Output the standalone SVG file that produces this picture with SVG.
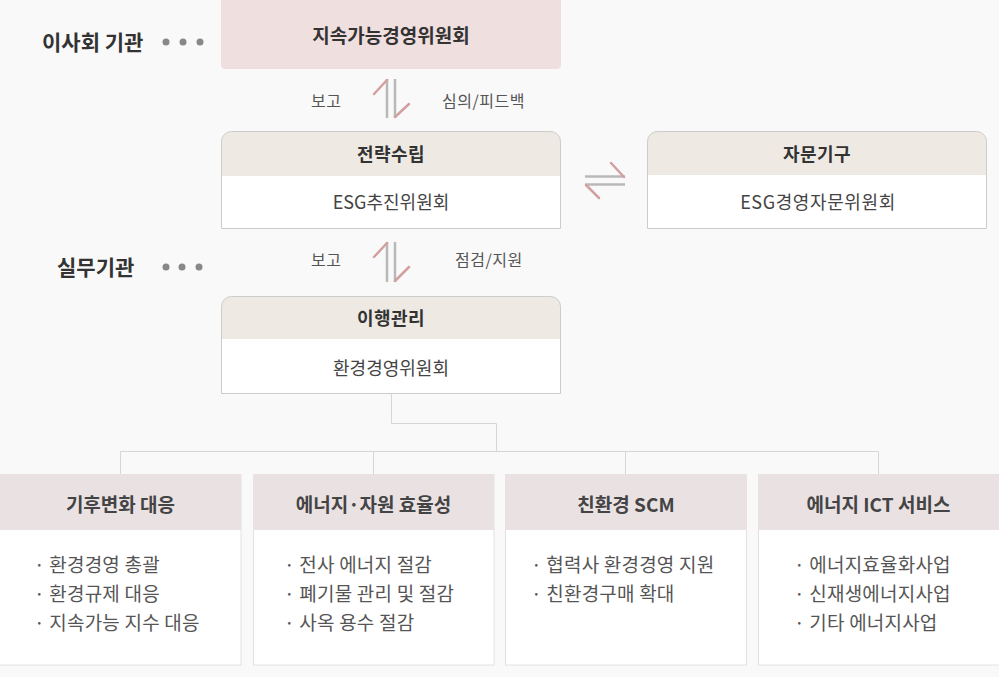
<svg xmlns="http://www.w3.org/2000/svg" width="999" height="677" viewBox="0 0 999 677">
<style>
text{font-family:"Noto Sans CJK KR","Noto Sans",sans-serif;dominant-baseline:central}
.side{font-size:21px;font-weight:bold;fill:#333}
.title{font-size:19px;font-weight:bold;fill:#333;text-anchor:middle}
.head{font-size:18px;font-weight:bold;fill:#333;text-anchor:middle;letter-spacing:0.5px}
.bhead{font-size:19px;font-weight:bold;fill:#444;text-anchor:middle}
.body{font-size:18px;fill:#444;text-anchor:middle}
.lbl{font-size:16px;fill:#555;letter-spacing:0.5px}
.item{font-size:19px;fill:#555;letter-spacing:0.2px}
.hdr{fill:#eeeae3}
.out{fill:none;stroke:#cccccc;stroke-width:1}
.bhdr{fill:#e9e1e2}
.bbox{fill:#ffffff;stroke:#e2e2e2;stroke-width:1}
.gray{stroke:#b8b8b8;stroke-width:2.5;fill:none}
.pink{stroke:#d3a0a0;stroke-width:2.5;fill:none;stroke-linecap:round}
.dot{fill:#888}
.conn{stroke:#d6d6d6;stroke-width:1;fill:none}
</style>
<rect x="0" y="0" width="999" height="677" fill="#f9f9f9"/>

<g id="label-board">
<text class="side" x="42" y="41">이사회 기관</text>
<circle class="dot" cx="166" cy="42" r="3.5"/>
<circle class="dot" cx="183" cy="42" r="3.5"/>
<circle class="dot" cx="200" cy="42" r="3.5"/>
</g>
<g id="label-work">
<text class="side" x="57" y="266">실무기관</text>
<circle class="dot" cx="166" cy="267" r="3.5"/>
<circle class="dot" cx="182" cy="267" r="3.5"/>
<circle class="dot" cx="199" cy="267" r="3.5"/>
</g>

<g id="node-committee">
<path d="M221,0 H561 V65 A4,4 0 0 1 557,69 H225 A4,4 0 0 1 221,65 Z" fill="#f0dfdf"/>
<text class="title" x="391" y="34">지속가능경영위원회</text>
</g>

<g id="node-strategy">
<rect x="221.5" y="176" width="339" height="52.5" fill="#ffffff"/>
<path class="hdr" d="M221.5,176 V141.5 A10,10 0 0 1 231.5,131.5 H550.5 A10,10 0 0 1 560.5,141.5 V176 Z"/>
<path class="out" d="M221.5,228.5 V141.5 A10,10 0 0 1 231.5,131.5 H550.5 A10,10 0 0 1 560.5,141.5 V228.5 Z"/>
<text class="head" x="391" y="153">전략수립</text>
<text class="body" x="391" y="201">ESG추진위원회</text>
</g>

<g id="node-advisory">
<rect x="647.5" y="175" width="339" height="53.5" fill="#ffffff"/>
<path class="hdr" d="M647.5,175 V141.5 A10,10 0 0 1 657.5,131.5 H976.5 A10,10 0 0 1 986.5,141.5 V175 Z"/>
<path class="out" d="M647.5,228.5 V141.5 A10,10 0 0 1 657.5,131.5 H976.5 A10,10 0 0 1 986.5,141.5 V228.5 Z"/>
<text class="head" x="817" y="153">자문기구</text>
<text class="body" x="818" y="201" style="letter-spacing:0.6px">ESG경영자문위원회</text>
</g>

<g id="node-execution">
<rect x="221.5" y="339" width="339" height="54.5" fill="#ffffff"/>
<path class="hdr" d="M221.5,339 V306.5 A10,10 0 0 1 231.5,296.5 H550.5 A10,10 0 0 1 560.5,306.5 V339 Z"/>
<path class="out" d="M221.5,393.5 V306.5 A10,10 0 0 1 231.5,296.5 H550.5 A10,10 0 0 1 560.5,306.5 V393.5 Z"/>
<text class="head" x="391" y="317">이행관리</text>
<text class="body" x="391" y="367">환경경영위원회</text>
</g>

<g id="connectors">
<g id="arrow-1">
<line class="gray" x1="387" y1="79" x2="387" y2="118"/>
<line class="gray" x1="395" y1="79" x2="395" y2="118"/>
<line class="pink" x1="387" y1="80" x2="374" y2="94"/>
<line class="pink" x1="395" y1="117" x2="409" y2="104"/>
<text class="lbl" x="311" y="100">보고</text>
<text class="lbl" x="442" y="100">심의/피드백</text>
</g>
<g id="arrow-2">
<line class="gray" x1="387" y1="242" x2="387" y2="282"/>
<line class="gray" x1="395" y1="242" x2="395" y2="282"/>
<line class="pink" x1="387" y1="243" x2="374" y2="257"/>
<line class="pink" x1="395" y1="281" x2="409" y2="267"/>
<text class="lbl" x="311" y="259">보고</text>
<text class="lbl" x="455" y="259">점검/지원</text>
</g>
<g id="arrow-3">
<line class="gray" x1="585" y1="176.5" x2="625" y2="176.5"/>
<line class="gray" x1="585" y1="184.5" x2="625" y2="184.5"/>
<line class="pink" x1="624" y1="177" x2="611" y2="163"/>
<line class="pink" x1="586" y1="185" x2="599" y2="198"/>
</g>
<path class="conn" d="M391.5,393.5 V423.5 H496.5 V451.5"/>
<path class="conn" d="M120.5,474 V451.5 H878.5 V474"/>
<path class="conn" d="M373.5,451.5 V474"/>
<path class="conn" d="M625.5,451.5 V474"/>
</g>

<g id="node-climate">
<rect class="bbox" x="-1" y="474.5" width="242" height="190.5"/>
<rect class="bhdr" x="0" y="474" width="241" height="56"/>
<text class="bhead" x="120.5" y="503">기후변화 대응</text>
<text class="item" x="34" y="563">· 환경경영 총괄</text>
<text class="item" x="34" y="592">· 환경규제 대응</text>
<text class="item" x="34" y="621">· 지속가능 지수 대응</text>
</g>

<g id="node-energy">
<rect class="bbox" x="253.5" y="474.5" width="240.5" height="190.5"/>
<rect class="bhdr" x="253" y="474" width="241" height="56"/>
<text class="bhead" x="373.5" y="503">에너지·자원 효율성</text>
<text class="item" x="284" y="563">· 전사 에너지 절감</text>
<text class="item" x="284" y="592">· 폐기물 관리 및 절감</text>
<text class="item" x="284" y="621">· 사옥 용수 절감</text>
</g>

<g id="node-scm">
<rect class="bbox" x="505.5" y="474.5" width="241" height="190.5"/>
<rect class="bhdr" x="505" y="474" width="242" height="56"/>
<text class="bhead" x="626" y="503">친환경 SCM</text>
<text class="item" x="531" y="563">· 협력사 환경경영 지원</text>
<text class="item" x="531" y="592">· 친환경구매 확대</text>
</g>

<g id="node-ict">
<rect class="bbox" x="758.5" y="474.5" width="242" height="190.5"/>
<rect class="bhdr" x="758" y="474" width="241" height="56"/>
<text class="bhead" x="878.5" y="503">에너지 ICT 서비스</text>
<text class="item" x="794" y="563">· 에너지효율화사업</text>
<text class="item" x="794" y="592">· 신재생에너지사업</text>
<text class="item" x="794" y="621">· 기타 에너지사업</text>
</g>
</svg>
